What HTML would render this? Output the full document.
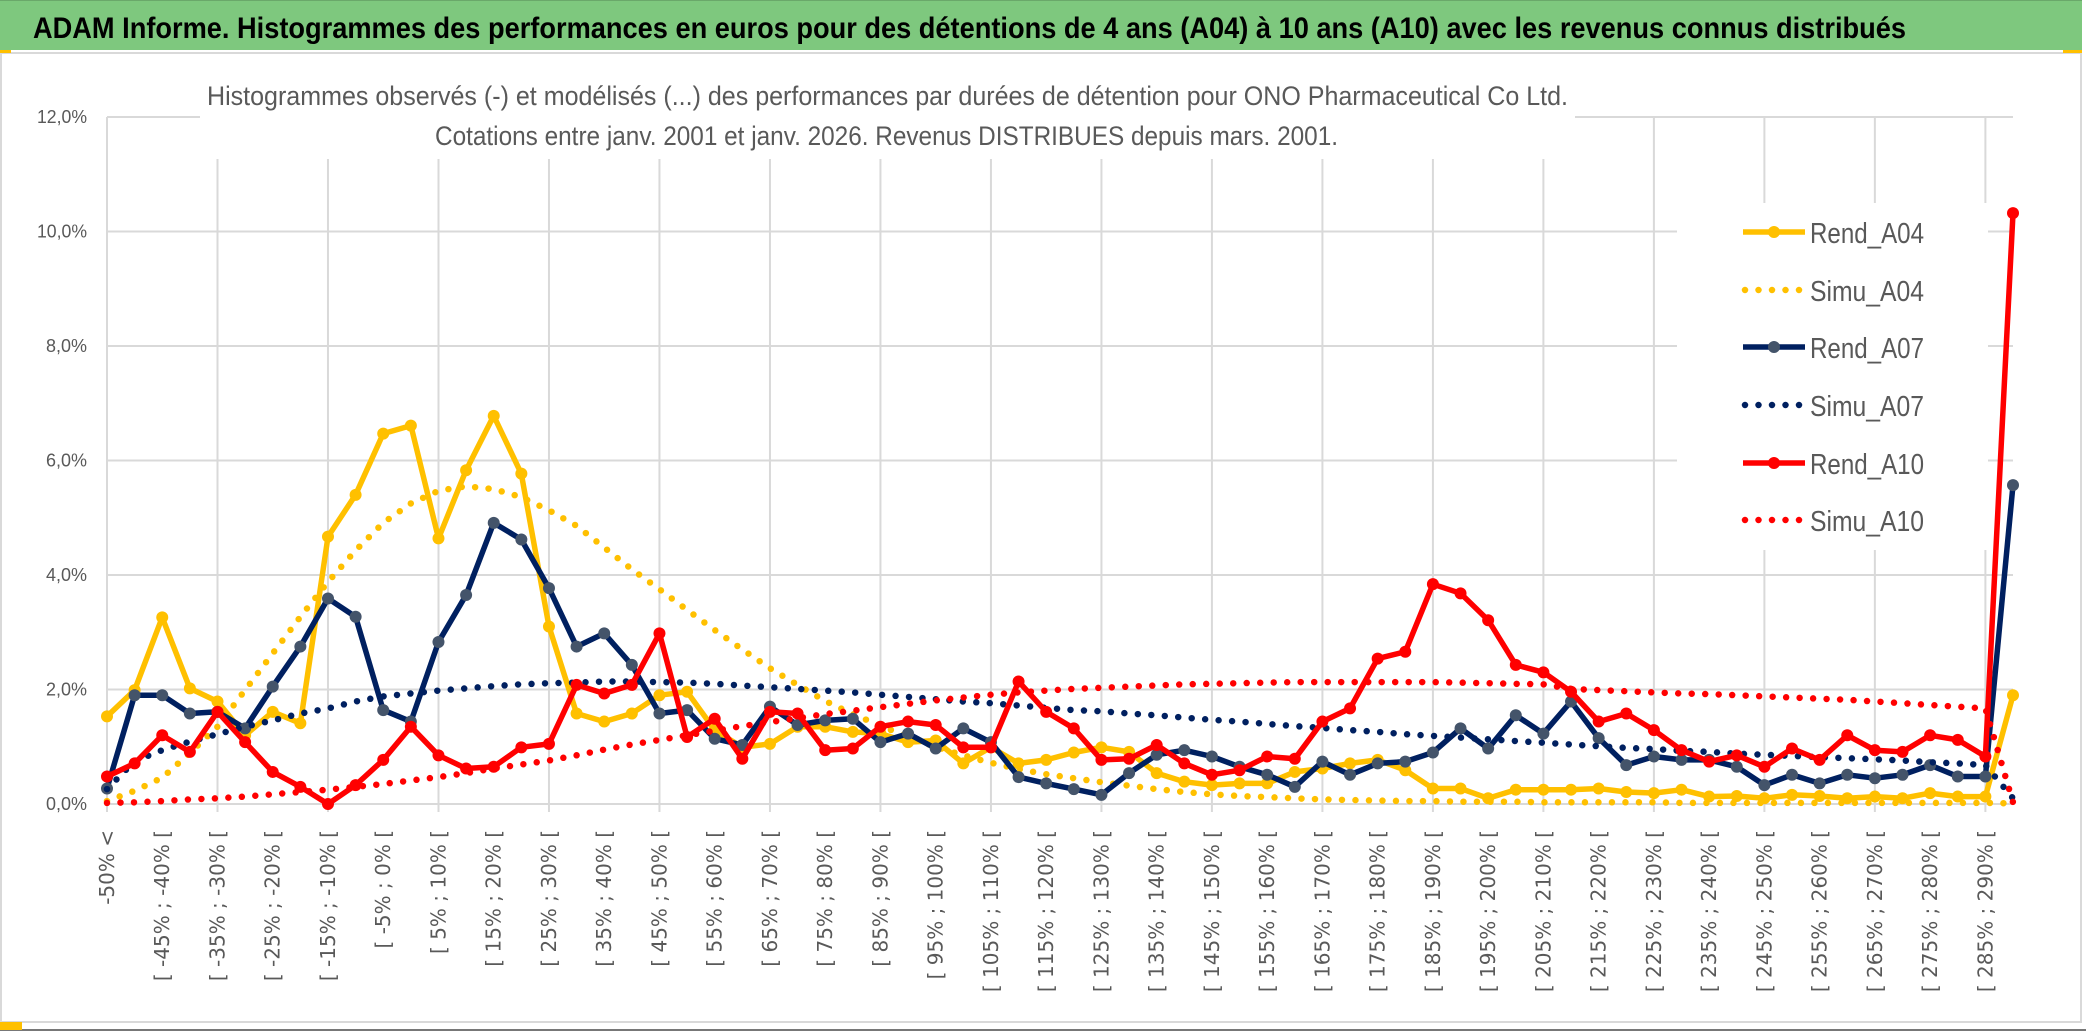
<!DOCTYPE html>
<html><head><meta charset="utf-8"><style>
html,body{margin:0;padding:0;background:#fff;}
svg{display:block;}
</style></head><body>
<svg id="chart" width="2086" height="1031" viewBox="0 0 2086 1031" xmlns="http://www.w3.org/2000/svg">
<rect x="0" y="0" width="2086" height="1031" fill="#ffffff"/>
<rect x="0" y="0" width="2082" height="50" fill="#7ec87e"/>
<line x1="0" y1="0.5" x2="2082" y2="0.5" stroke="#6aa86a" stroke-width="1"/>
<text x="33" y="38" font-family="Liberation Sans, sans-serif" font-weight="bold" font-size="30" fill="#000" textLength="1873" lengthAdjust="spacingAndGlyphs">ADAM Informe. Histogrammes des performances en euros pour des détentions de 4 ans (A04) à 10 ans (A10) avec les revenus connus distribués</text>
<rect x="1" y="53" width="2080" height="969" fill="none" stroke="#d9d9d9" stroke-width="2"/>
<line x1="0" y1="1030" x2="2086" y2="1030" stroke="#777" stroke-width="2"/>
<rect x="0" y="1022" width="22" height="8" fill="#ffc000"/>
<rect x="0" y="50" width="11" height="3" fill="#ffc000"/>
<rect x="2063" y="50" width="19" height="3" fill="#ffc000"/>
<g id="grid"></g>
<rect x="200" y="60" width="1375" height="99" fill="#fff"/>
<text x="207" y="105" font-family="Liberation Sans, sans-serif" font-size="27" fill="#595959" textLength="1361" lengthAdjust="spacingAndGlyphs">Histogrammes observés (-) et modélisés (...) des performances par durées de détention pour ONO Pharmaceutical Co Ltd.</text>
<text x="435" y="145" font-family="Liberation Sans, sans-serif" font-size="27" fill="#595959" textLength="903" lengthAdjust="spacingAndGlyphs">Cotations entre janv. 2001 et janv. 2026. Revenus DISTRIBUES depuis mars. 2001.</text>
<rect x="1677" y="203" width="311" height="347" fill="#fff"/>
<g id="yaxis"></g>
<g id="xaxis"></g>
<g id="series"></g>
<g id="legend"></g>
</svg>
<script>
const categoryCount = 70;
const yTicks = [0, 2, 4, 6, 8, 10, 12];
const yTickLabels = ["0,0%", "2,0%", "4,0%", "6,0%", "8,0%", "10,0%", "12,0%"];
const rendA04 = [1.53,1.99,3.26,2.02,1.79,1.20,1.61,1.41,4.67,5.40,6.47,6.61,4.64,5.83,6.78,5.77,3.10,1.58,1.44,1.58,1.90,1.96,1.29,0.99,1.05,1.35,1.35,1.26,1.23,1.08,1.11,0.71,0.99,0.71,0.77,0.90,0.99,0.91,0.54,0.39,0.33,0.36,0.36,0.56,0.62,0.71,0.77,0.59,0.27,0.27,0.10,0.25,0.25,0.25,0.27,0.21,0.19,0.25,0.13,0.14,0.10,0.16,0.14,0.10,0.13,0.10,0.19,0.13,0.13,1.90];
const simuA04 = [0.05,0.23,0.46,0.89,1.35,1.99,2.63,3.27,3.88,4.43,4.91,5.25,5.47,5.55,5.50,5.36,5.13,4.86,4.48,4.10,3.75,3.39,3.04,2.70,2.37,2.08,1.80,1.57,1.37,1.17,1.00,0.85,0.72,0.61,0.52,0.45,0.38,0.32,0.26,0.21,0.17,0.14,0.12,0.10,0.08,0.07,0.06,0.05,0.05,0.04,0.04,0.04,0.03,0.03,0.03,0.03,0.03,0.02,0.02,0.02,0.02,0.02,0.02,0.02,0.02,0.02,0.02,0.02,0.02,0.01];
const rendA07 = [0.27,1.90,1.90,1.58,1.61,1.32,2.05,2.75,3.59,3.27,1.64,1.44,2.83,3.65,4.91,4.62,3.77,2.75,2.98,2.43,1.58,1.64,1.14,1.03,1.70,1.38,1.46,1.49,1.08,1.23,0.97,1.32,1.08,0.47,0.36,0.26,0.16,0.54,0.86,0.94,0.83,0.65,0.51,0.30,0.74,0.51,0.71,0.74,0.90,1.32,0.97,1.55,1.23,1.79,1.15,0.68,0.83,0.77,0.77,0.65,0.33,0.51,0.36,0.51,0.45,0.51,0.68,0.48,0.48,5.57];
const simuA07 = [0.26,0.75,0.94,1.09,1.22,1.35,1.46,1.58,1.67,1.79,1.88,1.93,1.98,2.02,2.06,2.09,2.11,2.12,2.14,2.14,2.13,2.12,2.10,2.07,2.04,2.01,1.98,1.95,1.91,1.87,1.83,1.79,1.76,1.72,1.68,1.64,1.62,1.58,1.55,1.51,1.47,1.44,1.40,1.36,1.33,1.29,1.26,1.22,1.19,1.16,1.13,1.10,1.07,1.04,1.01,0.98,0.96,0.93,0.91,0.88,0.86,0.84,0.82,0.80,0.78,0.76,0.73,0.71,0.68,0.10];
const rendA10 = [0.48,0.71,1.20,0.91,1.61,1.08,0.56,0.30,0.00,0.33,0.77,1.35,0.85,0.62,0.65,0.99,1.05,2.08,1.93,2.08,2.98,1.17,1.49,0.79,1.61,1.58,0.94,0.97,1.35,1.44,1.38,0.99,0.99,2.14,1.61,1.32,0.77,0.79,1.03,0.71,0.51,0.59,0.83,0.79,1.44,1.67,2.54,2.66,3.84,3.68,3.21,2.43,2.30,1.96,1.44,1.58,1.29,0.94,0.74,0.85,0.65,0.97,0.77,1.20,0.94,0.91,1.20,1.12,0.83,10.32];
const simuA10 = [0.02,0.03,0.05,0.08,0.10,0.13,0.17,0.21,0.25,0.30,0.35,0.41,0.47,0.54,0.62,0.69,0.76,0.85,0.95,1.04,1.12,1.20,1.28,1.36,1.43,1.50,1.57,1.63,1.69,1.75,1.81,1.86,1.91,1.95,1.98,2.01,2.03,2.05,2.07,2.09,2.10,2.11,2.12,2.13,2.13,2.13,2.13,2.13,2.13,2.12,2.11,2.10,2.09,2.01,1.99,1.97,1.95,1.93,1.92,1.90,1.88,1.86,1.84,1.82,1.79,1.76,1.73,1.70,1.67,0.03];
const seriesNames = ["Rend_A04","Simu_A04","Rend_A07","Simu_A07","Rend_A10","Simu_A10"];

const NS = "http://www.w3.org/2000/svg";
const X0 = 107, X1 = 2013, Y0 = 804, Y12 = 117;
function xs(i){ return X0 + (X1 - X0) * i / (categoryCount - 1); }
function ys(v){ return Y0 - (Y0 - Y12) * v / 12; }
function mk(tag, attrs, parent){ const e = document.createElementNS(NS, tag); for (const k in attrs) e.setAttribute(k, attrs[k]); parent.appendChild(e); return e; }
function catLabel(i){
  if (i === 0) return "-50% <";
  if (i === categoryCount - 1) return "> 290%";
  const lo = -50 + 5 * (i - 1);
  return "[ " + lo + "% ; " + (lo + 5) + "% [";
}

const grid = document.getElementById('grid');
for (let t = 0; t < yTicks.length; t++) {
  const g = mk('line', {x1: X0, x2: X1, y1: ys(yTicks[t]), y2: ys(yTicks[t]), stroke: '#d9d9d9', 'stroke-width': 2}, grid);
  
  
}
for (let i = 0; i < categoryCount; i += 4) {
  const g = mk('line', {x1: xs(i), x2: xs(i), y1: Y12, y2: Y0 + 8, stroke: '#d9d9d9', 'stroke-width': 2}, grid);
  
  
}

const yaxis = document.getElementById('yaxis');
for (let t = 0; t < yTicks.length; t++) {
  const lab = yTickLabels[t];
  const tx = mk('text', {x: 87, y: ys(yTicks[t]) + 6, 'text-anchor': 'end', 'font-family': 'Liberation Sans, sans-serif', 'font-size': 18, fill: '#595959', textLength: lab.length === 5 ? 50 : 41, lengthAdjust: 'spacingAndGlyphs'}, yaxis);
  tx.textContent = lab;
  
  
}

const xaxis = document.getElementById('xaxis');
for (let i = 0; i < categoryCount - 1; i += 2) {
  const x = xs(i);
  const tx = mk('text', {x: 0, y: 0, transform: 'translate(' + (x + 7) + ',830) rotate(-90)', 'text-anchor': 'end', 'font-family': 'DejaVu Sans, sans-serif', 'font-size': 20, fill: '#595959'}, xaxis);
  tx.textContent = catLabel(i);
  
  
}

const sg = document.getElementById('series');
function pts(arr){ return arr.map((v, i) => xs(i).toFixed(1) + ',' + ys(v).toFixed(1)).join(' '); }
function drawRend(arr, color, markerFill, name){
  const g = mk('g', {}, sg);
  
  
  const pl = mk('polyline', {points: pts(arr), fill: 'none', stroke: color, 'stroke-width': 5.5, 'stroke-linejoin': 'round'}, g);
  
  
  for (let i = 0; i < arr.length; i++) {
    const c = mk('circle', {cx: xs(i), cy: ys(arr[i]), r: 6, fill: markerFill}, g);
    
    
  }
}
function drawSimu(arr, color, name){
  const pl = mk('polyline', {points: pts(arr), fill: 'none', stroke: color, 'stroke-width': 6.5, 'stroke-linecap': 'round', 'stroke-linejoin': 'round', 'stroke-dasharray': '0 13.5'}, sg);
  
  
}
drawRend(rendA04, '#ffc000', '#ffc000', 'rend-a04-series');
drawSimu(simuA04, '#ffc000', 'simu-a04-series');
drawRend(rendA07, '#002060', '#44546a', 'rend-a07-series');
drawSimu(simuA07, '#002060', 'simu-a07-series');
drawRend(rendA10, '#ff0000', '#ff0000', 'rend-a10-series');
drawSimu(simuA10, '#ff0000', 'simu-a10-series');

const lg = document.getElementById('legend');
const legColors = ['#ffc000','#ffc000','#002060','#002060','#ff0000','#ff0000'];
const legMarker = ['#ffc000','#ffc000','#44546a','#44546a','#ff0000','#ff0000'];
const legY = [232, 290, 347, 405, 463, 520];
for (let k = 0; k < seriesNames.length; k++) {
  const y = legY[k];
  const g = mk('g', {}, lg);
  
  
  if (k % 2 === 0) {
    mk('line', {x1: 1743, x2: 1805, y1: y, y2: y, stroke: legColors[k], 'stroke-width': 5.5}, g);
    mk('circle', {cx: 1774, cy: y, r: 6, fill: legMarker[k]}, g);
  } else {
    mk('line', {x1: 1745, x2: 1805, y1: y, y2: y, stroke: legColors[k], 'stroke-width': 6.5, 'stroke-linecap': 'round', 'stroke-dasharray': '0 13.5'}, g);
  }
  const t = mk('text', {x: 1810, y: y + 11, 'font-family': 'Liberation Sans, sans-serif', 'font-size': 29, fill: '#595959', textLength: 114, lengthAdjust: 'spacingAndGlyphs'}, g);
  t.textContent = seriesNames[k];
}
</script>
</body></html>
